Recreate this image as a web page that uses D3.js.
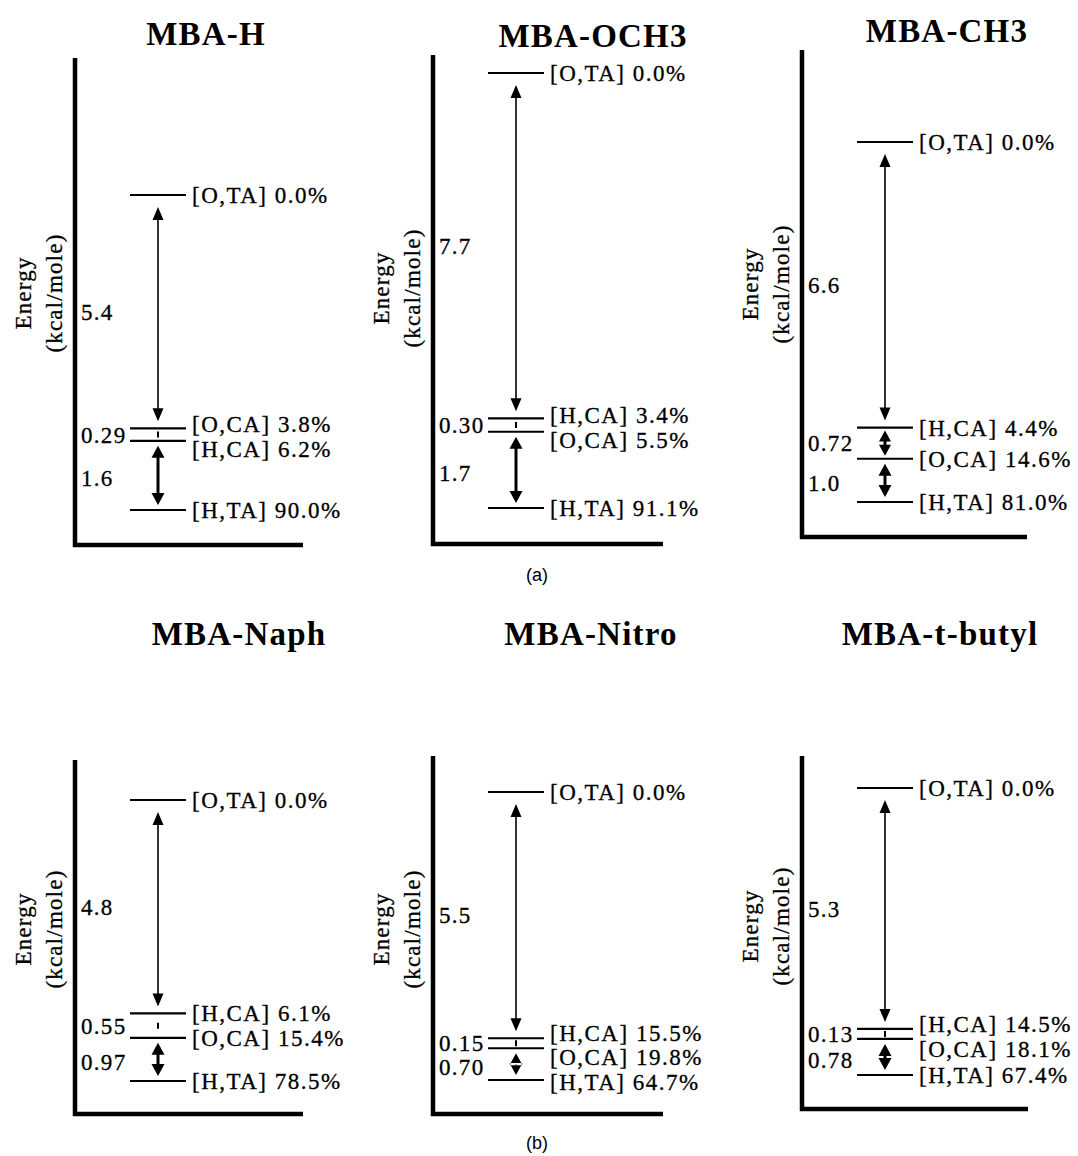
<!DOCTYPE html>
<html><head><meta charset="utf-8">
<script src="https://cdn.jsdelivr.net/npm/d3@7"></script>
<style>body{margin:0;background:#fff}</style>
</head><body>
<svg id="c" width="1078" height="1156"></svg>
<script>
// ---------- data ----------
const conformers = ["MBA-H","MBA-OCH3","MBA-CH3","MBA-Naph","MBA-Nitro","MBA-t-butyl"];
const stateNames = [
  ["[O,TA]","[O,CA]","[H,CA]","[H,TA]"],
  ["[O,TA]","[H,CA]","[O,CA]","[H,TA]"],
  ["[O,TA]","[H,CA]","[O,CA]","[H,TA]"],
  ["[O,TA]","[H,CA]","[O,CA]","[H,TA]"],
  ["[O,TA]","[H,CA]","[O,CA]","[H,TA]"],
  ["[O,TA]","[H,CA]","[O,CA]","[H,TA]"]
];
const populations = [
  [0.0, 3.8, 6.2, 90.0],
  [0.0, 3.4, 5.5, 91.1],
  [0.0, 4.4, 14.6, 81.0],
  [0.0, 6.1, 15.4, 78.5],
  [0.0, 15.5, 19.8, 64.7],
  [0.0, 14.5, 18.1, 67.4]
];
const gapTop = [5.4, 7.7, 6.6, 4.8, 5.5, 5.3];
const gapMid = [0.29, 0.30, 0.72, 0.55, 0.15, 0.13];
const gapLow = [1.6, 1.7, 1.0, 0.97, 0.70, 0.78];
const gapTopText = ["5.4","7.7","6.6","4.8","5.5","5.3"];
const gapMidText = ["0.29","0.30","0.72","0.55","0.15","0.13"];
const gapLowText = ["1.6","1.7","1.0","0.97","0.70","0.78"];
const axisTitle = ["Energy","(kcal/mole)"];
const partTags = ["(a)","(b)"];

// ---------- layout ----------
const layout = [
  {ax:75,  top:58,  bot:545,  right:303,  yH:510,  yO:195, tx:206, ty:45,  ly:293},
  {ax:433, top:55,  bot:544,  right:663,  yH:508,  yO:73,  tx:593, ty:47,  ly:288},
  {ax:802, top:50,  bot:537,  right:1027, yH:502,  yO:142, tx:947, ty:42,  ly:284},
  {ax:75,  top:760, bot:1114, right:303,  yH:1081, yO:800, tx:239, ty:645, ly:929},
  {ax:433, top:756, bot:1114, right:663,  yH:1080, yO:792, tx:591, ty:645, ly:929},
  {ax:802, top:756, bot:1109, right:1028, yH:1075, yO:788, tx:940, ty:645, ly:926}
];
const tagPos = [{x:537, y:575}, {x:537, y:1143}];

const svg = d3.select("#c");
const SERIF = "'Liberation Serif','Times New Roman',Times,serif";
const ink = "#000";

function serifText(sel, size, ls) {
  return sel.style("font-family", SERIF).style("font-size", size + "px")
    .style("letter-spacing", ls + "px")
    .attr("fill", ink).attr("stroke", ink).attr("stroke-width", 0.3);
}

function arrow(g, x, y1, y2, sw, hl, hw) {
  const p = d3.path();
  g.append("line").attr("x1", x).attr("x2", x)
    .attr("y1", y1 + hl - 1).attr("y2", y2 - hl + 1)
    .attr("stroke", ink).attr("stroke-width", sw);
  p.moveTo(x, y1); p.lineTo(x - hw, y1 + hl); p.lineTo(x + hw, y1 + hl); p.closePath();
  p.moveTo(x, y2); p.lineTo(x - hw, y2 - hl); p.lineTo(x + hw, y2 - hl); p.closePath();
  g.append("path").attr("d", p.toString()).attr("fill", ink);
}

conformers.forEach((name, i) => {
  const L = layout[i];
  const g = svg.append("g");
  const total = gapLow[i] + gapMid[i] + gapTop[i];
  const y = d3.scaleLinear().domain([0, total]).range([L.yH, L.yO]);
  const energies = [total, gapLow[i] + gapMid[i], gapLow[i], 0];
  const ys = energies.map(y);
  if (ys[2] - ys[1] < 10) ys[1] = ys[2] - 10;

  // frame
  g.append("path")
    .attr("d", `M${L.ax},${L.top}V${L.bot}H${L.right}`)
    .attr("fill", "none").attr("stroke", ink).attr("stroke-width", 4.5);

  // title
  g.append("text").attr("x", L.tx).attr("y", L.ty)
    .attr("text-anchor", "middle")
    .style("font-family", SERIF).style("font-weight", "bold")
    .style("font-size", "33px").style("letter-spacing", "1.2px")
    .attr("fill", ink).text(name);

  // axis title
  axisTitle.forEach((t, k) => {
    serifText(g.append("text")
      .attr("transform", `translate(${L.ax - 52 + k * 31},${L.ly}) rotate(-90)`)
      .attr("text-anchor", "middle").attr("dominant-baseline", "central"), 23, 1.2)
      .text(t);
  });

  // level lines
  const x1 = L.ax + 55, x2 = L.ax + 111, xa = L.ax + 83;
  g.selectAll("line.level").data(ys).join("line")
    .attr("class", "level")
    .attr("x1", x1).attr("x2", x2)
    .attr("y1", d => d).attr("y2", d => d)
    .attr("stroke", ink).attr("stroke-width", 2.2);

  // level labels (spread apart when crowded)
  const lab = ys.slice();
  for (let k = 1; k < lab.length; k++) {
    const gap = lab[k] - lab[k - 1];
    if (gap < 25) { const d = 25 - gap; lab[k - 1] -= d / 3; lab[k] += 2 * d / 3; }
  }
  serifText(g.selectAll("text.lev").data(stateNames[i]).join("text")
    .attr("class", "lev")
    .attr("x", L.ax + 117).attr("y", (d, k) => lab[k])
    .attr("dy", "0.35em"), 23, 1.5)
    .text((d, k) => d + " " + populations[i][k].toFixed(1) + "%");

  // arrows
  arrow(g, xa, ys[0] + 12, ys[1] - 7, 1.6, 13, 5.5);
  const midPx = ys[2] - ys[1];
  if (midPx > 25) {
    arrow(g, xa, ys[1] + 3, ys[2] - 3, 3, 11, 6);
  } else {
    const c = (ys[1] + ys[2]) / 2, h = Math.min(3, midPx / 2 - 2);
    g.append("line").attr("x1", xa).attr("x2", xa)
      .attr("y1", c - h).attr("y2", c + h)
      .attr("stroke", ink).attr("stroke-width", 2);
  }
  arrow(g, xa, ys[2] + 5, ys[3] - 5, 3, 12, 6.5);

  // gap labels
  const gl = [
    {t: gapTopText[i], y: (ys[0] + ys[1]) / 2},
    {t: gapMidText[i], y: (ys[1] + ys[2]) / 2},
    {t: gapLowText[i], y: (ys[2] + ys[3]) / 2 + 3}
  ];
  serifText(g.selectAll("text.gap").data(gl).join("text")
    .attr("class", "gap")
    .attr("x", L.ax + 6).attr("y", d => d.y).attr("dy", "0.35em"), 23, 1.3)
    .text(d => d.t);
});

svg.selectAll("text.tag").data(partTags).join("text")
  .attr("class", "tag")
  .attr("x", (d, k) => tagPos[k].x).attr("y", (d, k) => tagPos[k].y)
  .attr("dy", "0.35em").attr("text-anchor", "middle")
  .style("font-family", "'Liberation Sans',Arial,sans-serif").style("font-size", "18px")
  .attr("fill", ink).text(d => d);
</script>
</body></html>
